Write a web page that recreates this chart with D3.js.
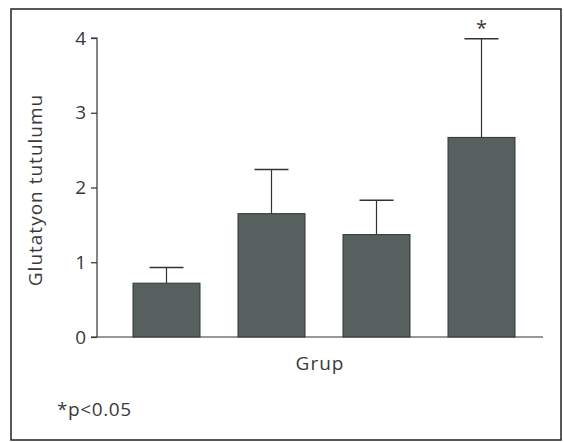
<!DOCTYPE html>
<html lang="en">
<head>
    <meta charset="UTF-8">
    <style>
        body { margin: 0; background: #fff; }
        text { font-family: "Open Sans", sans-serif; fill: #3a3a3a; }
    </style>
</head>
<body>
    <script src="https://d3js.org/d3.v7.min.js"></script>
    <script>
        // values
        var groups = ['1', '2', '3', '4']
        var means = [0.72, 1.65, 1.37, 2.67]
        var errTop = [0.93, 2.24, 1.83, 3.99]
        var marks = ['', '', '', '*']
        var yTicks = [0, 1, 2, 3, 4]

        var svgWidth = 564, svgHeight = 442

        var svg = d3.select('body').append('svg')
            .attr('width', svgWidth)
            .attr('height', svgHeight)

        // outer frame
        svg.append('rect')
            .attr('x', 11).attr('y', 9)
            .attr('width', 550).attr('height', 431)
            .attr('fill', 'none')
            .attr('stroke', '#222')
            .attr('stroke-width', 1.5)

        var yScale = d3.scaleLinear()
            .domain([0, 4])
            .range([337, 38])

        var xScale = d3.scaleBand()
            .domain(groups)
            .range([112, 536])
            .paddingInner(0.362)
            .paddingOuter(0.2)

        // y axis
        var yAxis = d3.axisLeft(yScale)
            .tickValues(yTicks)
            .tickFormat(d3.format('d'))
            .tickSize(6)
            .tickPadding(5)
        var gy = svg.append('g')
            .attr('transform', 'translate(97,0)')
            .call(yAxis)
        gy.select('.domain').attr('stroke', '#333').attr('stroke-width', 1.2)
            .attr('d', 'M-6,' + yScale(4) + 'H0V' + yScale(0))
        gy.selectAll('.tick line').attr('stroke', '#333').attr('stroke-width', 1.2)
        gy.selectAll('.tick text')
            .style('font-family', '"Open Sans", sans-serif')
            .style('font-size', '19px')
            .attr('fill', '#3a3a3a')

        // x axis baseline
        svg.append('line')
            .attr('x1', 91).attr('x2', 543)
            .attr('y1', yScale(0)).attr('y2', yScale(0))
            .attr('stroke', '#333')
            .attr('stroke-width', 1.2)

        // error bars (upper only)
        var capW = 34
        groups.forEach(function (g, i) {
            var cx = xScale(g) + xScale.bandwidth() / 2
            svg.append('line')
                .attr('x1', cx).attr('x2', cx)
                .attr('y1', yScale(means[i])).attr('y2', yScale(errTop[i]))
                .attr('stroke', '#333').attr('stroke-width', 1.2)
            svg.append('line')
                .attr('x1', cx - capW / 2).attr('x2', cx + capW / 2)
                .attr('y1', yScale(errTop[i])).attr('y2', yScale(errTop[i]))
                .attr('stroke', '#333').attr('stroke-width', 1.5)
            if (marks[i]) {
                svg.append('text')
                    .attr('x', cx)
                    .attr('y', yScale(errTop[i]) - 4)
                    .attr('text-anchor', 'middle')
                    .style('font-size', '20px')
                    .text(marks[i])
            }
        })

        // bars
        svg.selectAll('.bar')
            .data(means)
            .enter().append('rect')
            .attr('class', 'bar')
            .attr('x', function (d, i) { return xScale(groups[i]) })
            .attr('y', function (d) { return yScale(d) })
            .attr('width', xScale.bandwidth())
            .attr('height', function (d) { return yScale(0) - yScale(d) })
            .attr('fill', '#56605e')
            .attr('stroke', '#2f3635')
            .attr('stroke-width', 1)

        // axis titles
        svg.append('text')
            .attr('x', 320).attr('y', 370)
            .attr('text-anchor', 'middle')
            .style('font-size', '19px')
            .style('letter-spacing', '1px')
            .text('Grup')

        svg.append('text')
            .attr('transform', 'translate(42,190) rotate(-90)')
            .attr('text-anchor', 'middle')
            .style('font-size', '19px')
            .style('letter-spacing', '1px')
            .text('Glutatyon tutulumu')

        svg.append('text')
            .attr('x', 57).attr('y', 416)
            .style('font-size', '19px')
            .style('letter-spacing', '0.6px')
            .text('*p<0.05')
    </script>
</body>
</html>
